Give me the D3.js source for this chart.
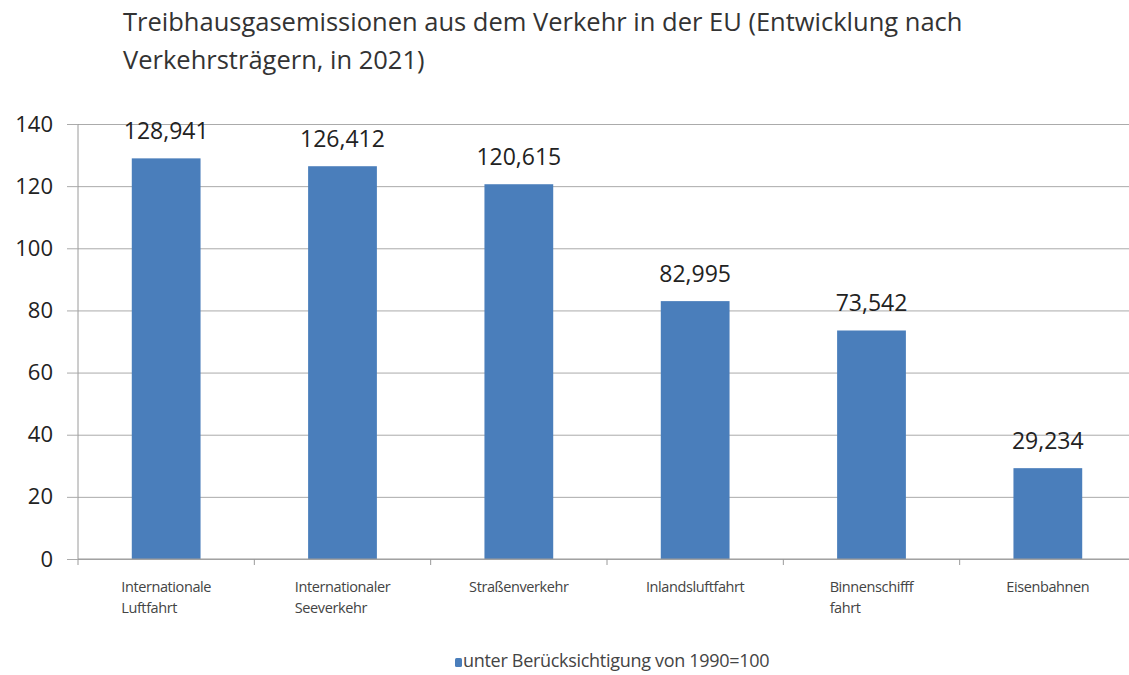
<!DOCTYPE html>
<html>
<head>
<meta charset="utf-8">
<script src="https://cdn.jsdelivr.net/npm/d3@7"></script>
<style>
  body { margin: 0; background: #fff; }
  svg { display: block; font-family: "Open Sans", sans-serif; }
</style>
</head>
<body>
<div id="chart"></div>
<script>
// Chart data
const categories = ['Internationale Luftfahrt', 'Internationaler Seeverkehr', 'Straßenverkehr',
  'Inlandsluftfahrt', 'Binnenschifffahrt', 'Eisenbahnen'];
const labelLines = [
  ['Internationale', 'Luftfahrt'],
  ['Internationaler', 'Seeverkehr'],
  ['Straßenverkehr'],
  ['Inlandsluftfahrt'],
  ['Binnenschifff', 'fahrt'],
  ['Eisenbahnen']
];
const values = [128.941, 126.412, 120.615, 82.995, 73.542, 29.234];
const yTicks = [0, 20, 40, 60, 80, 100, 120, 140];
const titleLines = ['Treibhausgasemissionen aus dem Verkehr in der EU (Entwicklung nach',
  'Verkehrsträgern, in 2021)'];
const legendText = 'unter Berücksichtigung von 1990=100';

const width = 1129;
const height = 675;
const margin = { top: 124, right: -7, bottom: 116, left: 78 };

const svg = d3.select('#chart')
  .append('svg')
  .attr('width', width)
  .attr('height', height);

const x = d3.scaleBand()
  .domain(categories)
  .range([margin.left, width - margin.right])
  .padding(0);

const y = d3.scaleLinear()
  .domain([0, 140])
  .range([height - margin.bottom, margin.top]);

const barColor = '#4a7ebb';

// Title
svg.append('g')
  .selectAll('text')
  .data(titleLines)
  .join('text')
  .attr('x', 123)
  .attr('y', (d, i) => 31 + i * 38)
  .attr('font-size', 25.5)
  .attr('fill', '#333')
  .text((d) => d);

// Gridlines
svg.append('g')
  .attr('transform', `translate(${margin.left},0)`)
  .call(d3.axisLeft(y).tickValues(yTicks).tickSize(-(width - margin.left)).tickFormat(''))
  .call((g) => g.select('.domain').remove())
  .call((g) => g.selectAll('line').attr('stroke', '#ababab'));

// Y axis
const yAxis = svg.append('g')
  .attr('transform', `translate(${margin.left},0)`)
  .call(d3.axisLeft(y).tickValues(yTicks).tickSize(11).tickPadding(14));
yAxis.select('.domain').attr('stroke', '#9a9a9a').attr('d', `M0,${y(140)}V${y(0) + 6}`);
yAxis.selectAll('line').attr('stroke', '#ababab');
yAxis.selectAll('text')
  .attr('font-size', 22)
  .attr('fill', '#222')
  .attr('font-family', '"Open Sans", sans-serif');

// Bars
const bw = x.bandwidth() * 0.39;
svg.append('g')
  .selectAll('rect')
  .data(values)
  .join('rect')
  .attr('x', (d, i) => x(categories[i]) + x.bandwidth() / 2 - bw / 2)
  .attr('y', (d) => y(d))
  .attr('width', bw)
  .attr('height', (d) => y(0) - y(d))
  .attr('fill', barColor);

// Value labels
svg.append('g')
  .selectAll('text')
  .data(values)
  .join('text')
  .attr('x', (d, i) => x(categories[i]) + x.bandwidth() / 2)
  .attr('y', (d) => y(d) - 19)
  .attr('text-anchor', 'middle')
  .attr('font-size', 23)
  .attr('fill', '#222')
  .text((d) => d3.format('.3f')(d).replace('.', ','));

// X axis line and tick marks
svg.append('line')
  .attr('x1', margin.left)
  .attr('x2', width)
  .attr('y1', y(0))
  .attr('y2', y(0))
  .attr('stroke', '#9a9a9a');

svg.append('g')
  .selectAll('line')
  .data(categories.slice(1))
  .join('line')
  .attr('x1', (d) => x(d))
  .attr('x2', (d) => x(d))
  .attr('y1', y(0))
  .attr('y2', y(0) + 6)
  .attr('stroke', '#9a9a9a');

// Category labels (left aligned block, centred in band)
const labels = svg.append('g')
  .selectAll('text')
  .data(labelLines)
  .join('text')
  .attr('font-size', 14.5)
  .attr('fill', '#444')
  .attr('letter-spacing', -0.4);

labels.selectAll('tspan')
  .data((d) => d)
  .join('tspan')
  .attr('dy', (d, i) => (i === 0 ? 0 : 21))
  .text((d) => d);

labels.each(function (d, i) {
  const el = d3.select(this);
  let maxW = 0;
  el.selectAll('tspan').each(function () {
    maxW = Math.max(maxW, this.getComputedTextLength());
  });
  const cx = x(categories[i]) + x.bandwidth() / 2;
  el.attr('y', 592);
  el.selectAll('tspan').attr('x', cx - maxW / 2);
});

// Legend
svg.append('rect')
  .attr('x', 455)
  .attr('y', 658)
  .attr('width', 7)
  .attr('height', 9)
  .attr('rx', 1.5)
  .attr('fill', barColor);

svg.append('text')
  .attr('x', 463)
  .attr('y', 667)
  .attr('font-size', 18)
  .attr('fill', '#444')
  .attr('letter-spacing', -0.3)
  .text(legendText);
</script>
</body>
</html>
